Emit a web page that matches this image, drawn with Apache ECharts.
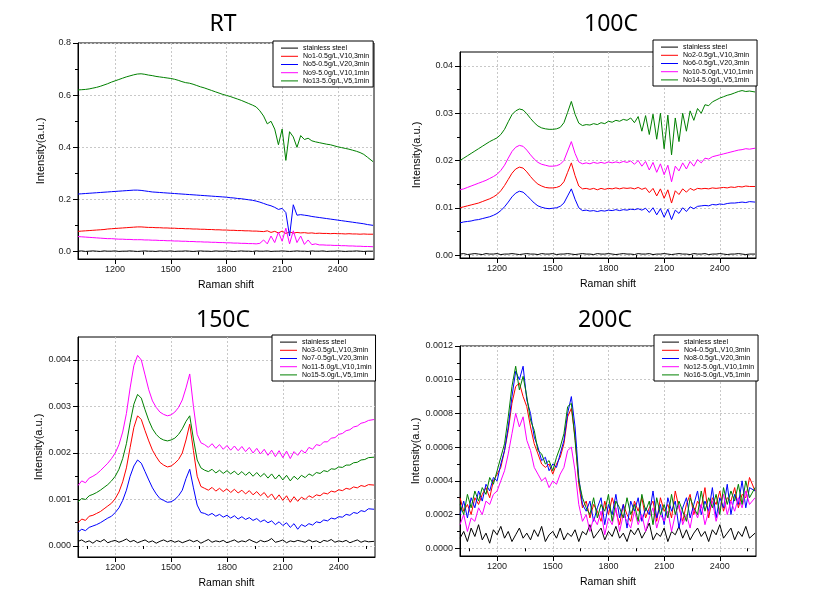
<!DOCTYPE html>
<html><head><meta charset="utf-8">
<script src="https://cdn.jsdelivr.net/npm/echarts/dist/echarts.min.js"></script>
<style>html,body{margin:0;padding:0;background:#fff}#c{width:818px;height:607px}</style>
</head><body><div id="c"></div><script>
// ---- data ----
const ramanShift = [
1000,1020,1040,1060,1080,1100,1120,1140,1160,1180,
1200,1220,1240,1260,1280,1300,1320,1340,1360,1380,
1400,1420,1440,1460,1480,1500,1520,1540,1560,1580,
1600,1620,1640,1660,1680,1700,1720,1740,1760,1780,
1800,1820,1840,1860,1880,1900,1920,1940,1960,1980,
2000,2020,2040,2060,2080,2100,2120,2140,2160,2180,
2200,2220,2240,2260,2280,2300,2320,2340,2360,2380,
2400,2420,2440,2460,2480,2500,2520,2540,2560,2590];

const xTicks = [1200,1500,1800,2100,2400];
const xMinorTicks = [1050,1350,1650,1950,2250,2550];

const rtYTicks = [0,0.2,0.4,0.6,0.8];
const rtYMinor = [0.1,0.3,0.5,0.7];
const c100YTicks = [0,0.01,0.02,0.03,0.04];
const c100YMinor = [0.005,0.015,0.025,0.035];
const c150YTicks = [0,0.001,0.002,0.003,0.004];
const c150YMinor = [0.0005,0.0015,0.0025,0.0035];
const c200YTicks = [0,0.0002,0.0004,0.0006,0.0008,0.001,0.0012];
const c200YMinor = [0.0001,0.0003,0.0005,0.0007,0.0009,0.0011];

const rtNames = ['stainless steel','No1-0.5g/L,V10,3min','No5-0.5g/L,V20,3min','No9-5.0g/L,V10,1min','No13-5.0g/L,V5,1min'];
const c100Names = ['stainless steel','No2-0.5g/L,V10,3min','No6-0.5g/L,V20,3min','No10-5.0g/L,V10,1min','No14-5.0g/L,V5,1min'];
const c150Names = ['stainless steel','No3-0.5g/L,V10,3min','No7-0.5g/L,V20,3min','No11-5.0g/L,V10,1min','No15-5.0g/L,V5,1min'];
const c200Names = ['stainless steel','No4-0.5g/L,V10,3min','No8-0.5g/L,V20,3min','No12-5.0g/L,V10,1min','No16-5.0g/L,V5,1min'];

const rtSteel = [
.002,.003,.001,.002,.003,.002,.001,.003,.002,.002,
.003,.001,.002,.002,.003,.002,.001,.002,.003,.002,
.002,.001,.003,.002,.002,.003,.001,.002,.002,.003,
.002,.001,.002,.003,.002,.002,.001,.003,.002,.002,
.003,.002,.001,.002,.003,.002,.002,.001,.003,.002,
.002,.003,.001,.002,.002,.003,.002,.001,.002,.003,
.002,.002,.001,.003,.002,.002,.003,.001,.002,.002,
.003,.002,.001,.002,.002,.003,.002,.001,.002,.002];
const rtNo1 = [
.078,.079,.080,.081,.082,.083,.084,.085,.087,.088,
.089,.090,.091,.092,.093,.094,.095,.095,.094,.093,
.093,.092,.092,.091,.091,.090,.090,.089,.089,.088,
.088,.087,.087,.086,.086,.085,.085,.084,.084,.083,
.083,.082,.082,.081,.081,.080,.080,.079,.079,.078,
.077,.080,.074,.078,.072,.079,.070,.076,.071,.074,
.072,.073,.071,.072,.070,.071,.070,.070,.069,.070,
.069,.069,.068,.069,.068,.068,.067,.068,.067,.067];
const rtNo5 = [
.221,.222,.223,.224,.225,.226,.227,.228,.229,.230,
.231,.232,.233,.234,.235,.236,.236,.235,.233,.231,
.229,.228,.227,.226,.225,.224,.223,.222,.221,.220,
.219,.218,.217,.216,.215,.214,.213,.212,.211,.210,
.209,.207,.206,.204,.203,.201,.199,.197,.194,.190,
.185,.180,.176,.170,.162,.166,.150,.060,.180,.140,
.142,.140,.138,.135,.133,.131,.129,.127,.125,.123,
.121,.119,.117,.115,.113,.111,.109,.107,.104,.101];
const rtNo9 = [
.058,.057,.056,.055,.054,.053,.052,.051,.050,.050,
.049,.048,.048,.047,.047,.046,.046,.046,.045,.045,
.044,.044,.043,.043,.042,.042,.041,.041,.040,.040,
.039,.039,.038,.038,.037,.037,.036,.036,.035,.035,
.034,.034,.033,.033,.032,.032,.031,.031,.030,.032,
.045,.030,.060,.035,.075,.040,.090,.030,.080,.035,
.060,.028,.045,.027,.030,.026,.026,.025,.025,.024,
.024,.023,.023,.022,.022,.021,.021,.020,.020,.019];
const rtNo13 = [
.620,.621,.622,.624,.627,.630,.634,.639,.644,.650,
.655,.660,.665,.670,.674,.678,.681,.682,.680,.677,
.675,.672,.670,.668,.666,.664,.661,.657,.652,.648,
.646,.642,.637,.632,.628,.623,.618,.613,.608,.603,
.599,.595,.590,.585,.580,.574,.568,.562,.555,.540,
.520,.490,.500,.470,.410,.470,.350,.460,.440,.400,
.445,.430,.435,.425,.421,.418,.415,.412,.410,.406,
.402,.399,.396,.393,.389,.385,.380,.373,.362,.345];

const c100Steel = [
.0002,.0003,.0001,.0002,.0003,.0002,.0001,.0003,.0002,.0002,
.0003,.0001,.0002,.0002,.0003,.0002,.0001,.0002,.0003,.0002,
.0002,.0001,.0003,.0002,.0002,.0003,.0001,.0002,.0002,.0003,
.0002,.0001,.0002,.0003,.0002,.0002,.0001,.0003,.0002,.0002,
.0003,.0002,.0001,.0002,.0003,.0002,.0002,.0001,.0003,.0002,
.0002,.0003,.0001,.0002,.0002,.0003,.0002,.0001,.0002,.0003,
.0002,.0002,.0001,.0003,.0002,.0002,.0003,.0001,.0002,.0002,
.0003,.0002,.0001,.0002,.0002,.0003,.0002,.0001,.0002,.0002];
const c100No2 = [
.0100,.0102,.0104,.0106,.0108,.0110,.0113,.0116,.0119,.0123,
.0128,.0136,.0147,.0160,.0173,.0182,.0186,.0184,.0176,.0166,
.0157,.0150,.0146,.0143,.0142,.0142,.0143,.0146,.0155,.0175,
.0195,.0168,.0146,.0140,.0141,.0139,.0141,.0138,.0141,.0139,
.0141,.0140,.0142,.0140,.0142,.0141,.0142,.0140,.0143,.0139,
.0142,.0132,.0141,.0125,.0140,.0120,.0138,.0110,.0136,.0128,
.0140,.0133,.0141,.0137,.0141,.0140,.0141,.0140,.0142,.0141,
.0142,.0143,.0142,.0144,.0143,.0145,.0144,.0146,.0145,.0145];
const c100No6 = [
.0068,.0070,.0071,.0072,.0074,.0075,.0077,.0079,.0081,.0084,
.0088,.0094,.0102,.0112,.0123,.0131,.0135,.0133,.0126,.0118,
.0110,.0104,.0101,.0099,.0098,.0099,.0100,.0103,.0110,.0125,
.0140,.0118,.0100,.0094,.0095,.0093,.0094,.0092,.0094,.0093,
.0095,.0094,.0096,.0094,.0096,.0095,.0097,.0096,.0098,.0095,
.0099,.0090,.0100,.0085,.0098,.0080,.0097,.0075,.0095,.0088,
.0100,.0092,.0102,.0098,.0103,.0104,.0105,.0104,.0107,.0106,
.0108,.0107,.0109,.0110,.0110,.0111,.0112,.0111,.0113,.0112];
const c100No10 = [
.0138,.0140,.0143,.0146,.0149,.0152,.0155,.0158,.0162,.0166,
.0171,.0179,.0190,.0205,.0219,.0228,.0232,.0230,.0222,.0212,
.0203,.0196,.0192,.0190,.0188,.0188,.0189,.0192,.0200,.0220,
.0240,.0215,.0197,.0193,.0195,.0193,.0196,.0194,.0196,.0194,
.0197,.0195,.0197,.0195,.0198,.0196,.0199,.0192,.0200,.0188,
.0198,.0180,.0196,.0175,.0193,.0170,.0190,.0155,.0188,.0178,
.0195,.0182,.0198,.0188,.0202,.0195,.0205,.0203,.0208,.0210,
.0212,.0214,.0216,.0218,.0220,.0222,.0223,.0225,.0224,.0226];
const c100No14 = [
.0200,.0205,.0210,.0215,.0220,.0225,.0230,.0235,.0240,.0244,
.0248,.0255,.0266,.0282,.0297,.0305,.0309,.0307,.0299,.0289,
.0280,.0273,.0269,.0267,.0266,.0266,.0267,.0270,.0280,.0302,
.0325,.0298,.0279,.0274,.0276,.0275,.0278,.0276,.0280,.0278,
.0283,.0281,.0285,.0283,.0287,.0285,.0290,.0280,.0293,.0262,
.0295,.0255,.0298,.0245,.0300,.0225,.0296,.0212,.0290,.0240,
.0300,.0262,.0305,.0285,.0310,.0300,.0318,.0316,.0324,.0328,
.0332,.0335,.0338,.0340,.0343,.0346,.0348,.0346,.0347,.0345];

const c150Steel = [
.00010,.00013,.00008,.00011,.00006,.00012,.00009,.00014,.00007,.00010,
.00012,.00008,.00011,.00015,.00009,.00012,.00007,.00010,.00013,.00008,
.00011,.00006,.00010,.00013,.00009,.00012,.00008,.00011,.00007,.00010,
.00013,.00009,.00012,.00006,.00010,.00014,.00008,.00011,.00009,.00012,
.00007,.00010,.00013,.00008,.00011,.00009,.00014,.00010,.00007,.00012,
.00009,.00011,.00016,.00008,.00010,.00013,.00007,.00011,.00009,.00012,
.00010,.00008,.00013,.00009,.00011,.00007,.00012,.00010,.00014,.00008,
.00011,.00009,.00012,.00007,.00010,.00013,.00008,.00011,.00009,.00010];
const c150No3 = [
.00050,.00058,.00055,.00064,.00066,.00070,.00074,.00080,.00086,.00092,
.00102,.00116,.00138,.00168,.00212,.00255,.00280,.00272,.00248,.00226,
.00206,.00192,.00180,.00174,.00170,.00172,.00178,.00186,.00200,.00228,
.00262,.00205,.00150,.00128,.00124,.00120,.00126,.00118,.00124,.00117,
.00123,.00115,.00122,.00114,.00120,.00112,.00119,.00110,.00117,.00108,
.00115,.00104,.00112,.00100,.00110,.00098,.00108,.00094,.00106,.00096,
.00105,.00100,.00108,.00104,.00110,.00108,.00114,.00112,.00118,.00116,
.00121,.00119,.00124,.00122,.00127,.00125,.00130,.00128,.00132,.00131];
const c150No7 = [
.00030,.00036,.00033,.00040,.00043,.00046,.00050,.00055,.00060,.00064,
.00072,.00082,.00098,.00120,.00150,.00172,.00185,.00178,.00160,.00142,
.00125,.00112,.00102,.00098,.00094,.00095,.00100,.00108,.00120,.00145,
.00165,.00125,.00088,.00072,.00070,.00066,.00070,.00064,.00068,.00062,
.00066,.00060,.00065,.00058,.00063,.00057,.00061,.00055,.00059,.00052,
.00056,.00050,.00054,.00046,.00052,.00044,.00050,.00040,.00048,.00036,
.00046,.00042,.00048,.00045,.00052,.00050,.00056,.00054,.00060,.00058,
.00063,.00062,.00068,.00066,.00072,.00070,.00076,.00074,.00080,.00079];
const c150No11 = [
.00130,.00140,.00136,.00146,.00150,.00155,.00162,.00170,.00178,.00188,
.00200,.00218,.00245,.00285,.00340,.00388,.00410,.00400,.00368,.00336,
.00312,.00298,.00288,.00283,.00280,.00282,.00288,.00298,.00314,.00340,
.00370,.00300,.00240,.00222,.00218,.00212,.00220,.00210,.00218,.00208,
.00216,.00206,.00215,.00205,.00214,.00203,.00212,.00200,.00210,.00198,
.00208,.00195,.00206,.00192,.00205,.00190,.00204,.00188,.00203,.00195,
.00206,.00200,.00212,.00208,.00218,.00216,.00224,.00224,.00232,.00233,
.00240,.00242,.00248,.00250,.00256,.00258,.00264,.00266,.00270,.00272];
const c150No15 = [
.00095,.00102,.00100,.00108,.00111,.00115,.00120,.00126,.00132,.00140,
.00150,.00165,.00188,.00220,.00265,.00305,.00326,.00318,.00293,.00270,
.00252,.00240,.00232,.00228,.00226,.00228,.00232,.00240,.00252,.00268,
.00280,.00230,.00185,.00168,.00163,.00160,.00165,.00157,.00163,.00156,
.00162,.00155,.00161,.00153,.00160,.00152,.00159,.00150,.00158,.00149,
.00156,.00146,.00155,.00144,.00153,.00142,.00152,.00140,.00150,.00143,
.00152,.00147,.00155,.00151,.00158,.00156,.00162,.00160,.00166,.00165,
.00170,.00169,.00174,.00174,.00179,.00180,.00185,.00186,.00190,.00191];

const c200Steel = [
.00006,.00010,.00004,.00012,.00007,.00014,.00005,.00009,.00003,.00011,
.00008,.00013,.00006,.00010,.00004,.00008,.00012,.00006,.00009,.00005,
.00011,.00007,.00013,.00004,.00008,.00010,.00006,.00012,.00005,.00009,
.00007,.00011,.00004,.00010,.00008,.00014,.00006,.00009,.00012,.00005,
.00010,.00007,.00013,.00006,.00009,.00004,.00011,.00008,.00012,.00006,
.00010,.00015,.00005,.00009,.00007,.00012,.00004,.00010,.00008,.00013,
.00006,.00011,.00005,.00009,.00012,.00007,.00010,.00004,.00011,.00008,
.00014,.00006,.00009,.00012,.00005,.00010,.00007,.00013,.00006,.00009];
const c200No4 = [
.00030,.00022,.00026,.00020,.00030,.00026,.00032,.00036,.00030,.00040,
.00044,.00048,.00058,.00070,.00086,.00096,.00098,.00090,.00084,.00072,
.00062,.00056,.00050,.00048,.00050,.00044,.00050,.00054,.00062,.00078,
.00083,.00066,.00038,.00024,.00028,.00018,.00026,.00022,.00016,.00028,
.00020,.00030,.00022,.00014,.00026,.00020,.00016,.00028,.00022,.00030,
.00018,.00024,.00028,.00016,.00030,.00022,.00026,.00018,.00034,.00024,
.00016,.00026,.00032,.00020,.00028,.00024,.00036,.00018,.00030,.00026,
.00034,.00022,.00030,.00028,.00036,.00024,.00032,.00030,.00042,.00034];
const c200No8 = [
.00020,.00028,.00018,.00030,.00024,.00034,.00028,.00038,.00034,.00042,
.00040,.00050,.00058,.00072,.00090,.00105,.00100,.00108,.00088,.00080,
.00066,.00060,.00052,.00054,.00046,.00050,.00048,.00056,.00064,.00080,
.00090,.00072,.00042,.00026,.00022,.00028,.00016,.00024,.00030,.00014,
.00026,.00020,.00032,.00018,.00026,.00012,.00028,.00022,.00030,.00016,
.00024,.00020,.00034,.00018,.00026,.00014,.00030,.00022,.00028,.00012,
.00024,.00030,.00018,.00026,.00034,.00020,.00028,.00022,.00036,.00018,
.00030,.00024,.00038,.00020,.00032,.00026,.00040,.00024,.00036,.00034];
const c200No12 = [
.00014,.00020,.00010,.00018,.00016,.00024,.00020,.00028,.00026,.00032,
.00034,.00040,.00046,.00056,.00068,.00080,.00072,.00078,.00064,.00058,
.00048,.00044,.00040,.00042,.00036,.00040,.00038,.00044,.00048,.00058,
.00060,.00046,.00026,.00016,.00020,.00010,.00018,.00014,.00022,.00008,
.00018,.00014,.00024,.00010,.00020,.00016,.00012,.00022,.00014,.00020,
.00010,.00018,.00024,.00012,.00020,.00016,.00022,.00010,.00020,.00026,
.00014,.00020,.00012,.00024,.00018,.00026,.00014,.00022,.00028,.00016,
.00024,.00032,.00020,.00028,.00022,.00030,.00024,.00034,.00026,.00030];
const c200No16 = [
.00026,.00020,.00032,.00024,.00034,.00028,.00036,.00032,.00042,.00038,
.00046,.00054,.00062,.00078,.00096,.00108,.00094,.00102,.00090,.00076,
.00070,.00058,.00056,.00050,.00052,.00046,.00054,.00060,.00068,.00084,
.00086,.00064,.00040,.00030,.00024,.00020,.00030,.00018,.00026,.00022,
.00032,.00016,.00028,.00024,.00018,.00030,.00020,.00026,.00016,.00032,
.00022,.00028,.00014,.00030,.00020,.00026,.00018,.00032,.00020,.00028,
.00022,.00016,.00030,.00024,.00020,.00034,.00022,.00030,.00024,.00032,
.00020,.00036,.00026,.00034,.00028,.00038,.00026,.00040,.00030,.00036];

// ---- layout ----
const colors = ['#000000','#ff0000','#0000ff','#ff00ff','#008000'];
const FONT = 'Liberation Sans, Arial, sans-serif';
const panels = [
  {title:'RT', tx:218, ty:8, grid:{left:78, top:43, width:296, height:216},
   yMin:-0.028, yMax:0.8, ticks:rtYTicks, minor:rtYMinor, dec:1, nameGap:32,
   lg:{left:273, top:41}, names:rtNames, data:[rtSteel,rtNo1,rtNo5,rtNo9,rtNo13]},
  {title:'100C', tx:606, ty:8, grid:{left:460, top:52, width:296, height:206},
   yMin:-0.00063, yMax:0.04296, ticks:c100YTicks, minor:c100YMinor, dec:2, nameGap:38,
   lg:{left:653, top:40}, names:c100Names, data:[c100Steel,c100No2,c100No6,c100No10,c100No14]},
  {title:'150C', tx:218, ty:304, grid:{left:78, top:337, width:297, height:220},
   yMin:-0.000237, yMax:0.004495, ticks:c150YTicks, minor:c150YMinor, dec:3, nameGap:33,
   lg:{left:272, top:335}, names:c150Names, data:[c150Steel,c150No3,c150No7,c150No11,c150No15]},
  {title:'200C', tx:600, ty:304, grid:{left:460, top:346, width:296, height:210},
   yMin:-0.0000457, yMax:0.0012, ticks:c200YTicks, minor:c200YMinor, dec:4, nameGap:38,
   lg:{left:654, top:335}, names:c200Names, data:[c200Steel,c200No4,c200No8,c200No12,c200No16]}
];

const split = {show:true, lineStyle:{color:'#c8c8c8', width:1, type:[2,2]}};
const option = {
  animation:false,
  backgroundColor:'#fff',
  title: panels.map(p=>({text:p.title, left:p.tx, top:p.ty, textAlign:'center',
    textStyle:{fontSize:23, fontWeight:'normal', color:'#000', fontFamily:'Noto Sans, Noto Sans CJK KR, sans-serif'}})),
  grid: panels.map(p=>Object.assign({show:true, borderColor:'#000', borderWidth:1, backgroundColor:'transparent'}, p.grid)),
  legend: panels.map(p=>({orient:'vertical', left:p.lg.left, top:p.lg.top, data:p.names,
    icon:'rect', itemWidth:17, itemHeight:1, itemGap:0, padding:[3,4,2,8],
    borderColor:'#000', borderWidth:1, backgroundColor:'#fff', selectedMode:false,
    textStyle:{fontSize:7, lineHeight:8.2, color:'#000', fontFamily:FONT}})),
  xAxis: [
    ...panels.map((p,k)=>({gridIndex:k, type:'value', min:1000, max:2595, position:'bottom',
      axisLine:{show:true, onZero:false, lineStyle:{color:'#000', width:1}},
      axisTick:{show:true, inside:false, length:5, customValues:xTicks, lineStyle:{color:'#000'}},
      axisLabel:{customValues:xTicks, margin:6, fontSize:9, color:'#222', fontFamily:FONT,
        formatter:v=>String(Math.round(v))},
      splitLine:split,
      name:'Raman shift', nameLocation:'middle', nameGap:21,
      nameTextStyle:{fontSize:10.5, color:'#000', fontFamily:FONT}})),
    ...panels.map((p,k)=>({gridIndex:k, type:'value', min:1000, max:2595, position:'bottom', offset:0,
      axisLine:{show:false},
      axisTick:{show:true, inside:false, length:3, customValues:xMinorTicks, lineStyle:{color:'#000'}},
      axisLabel:{show:false}, splitLine:{show:false}}))
  ],
  yAxis: [
    ...panels.map((p,k)=>({gridIndex:k, type:'value', min:p.yMin, max:p.yMax, position:'left',
      axisLine:{show:true, onZero:false, lineStyle:{color:'#000', width:1}},
      axisTick:{show:true, inside:false, length:5, customValues:p.ticks, lineStyle:{color:'#000'}},
      axisLabel:{customValues:p.ticks, margin:7, fontSize:9, color:'#222', fontFamily:FONT,
        formatter:v=>Number(v).toFixed(p.dec)},
      splitLine:split,
      name:'Intensity(a.u.)', nameLocation:'middle', nameGap:p.nameGap,
      nameTextStyle:{fontSize:11, color:'#000', fontFamily:FONT}})),
    ...panels.map((p,k)=>({gridIndex:k, type:'value', min:p.yMin, max:p.yMax, position:'left', offset:0,
      axisLine:{show:false},
      axisTick:{show:true, inside:false, length:3, customValues:p.minor, lineStyle:{color:'#000'}},
      axisLabel:{show:false}, splitLine:{show:false}}))
  ],
  series: []
};
panels.forEach((p,k)=>{
  p.data.forEach((vals,j)=>{
    option.series.push({type:'line', name:p.names[j], xAxisIndex:k, yAxisIndex:k,
      data: ramanShift.map((x,i)=>[x, vals[i]]),
      showSymbol:false, symbol:'none', color:colors[j], silent:true, clip:true,
      lineStyle:{width:1, color:colors[j]}});
  });
});
const chart = echarts.init(document.getElementById('c'), null, {renderer:'canvas'});
chart.setOption(option);
</script></body></html>
